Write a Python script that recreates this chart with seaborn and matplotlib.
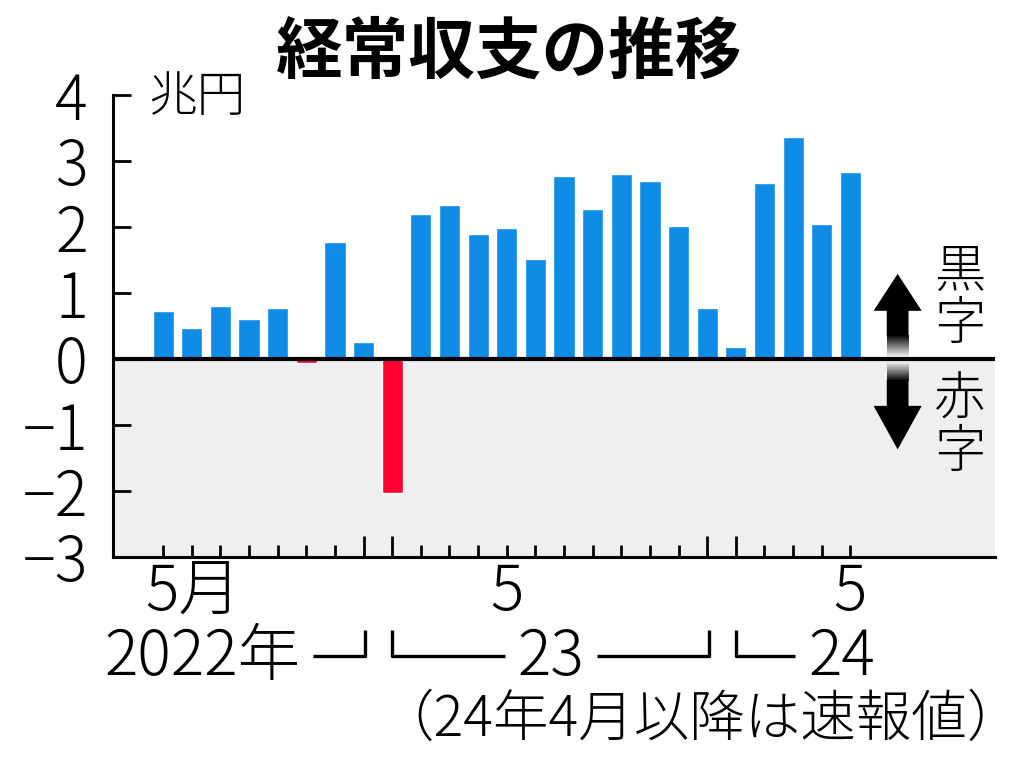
import numpy as np
import pandas as pd
import matplotlib
matplotlib.use("Agg")
import matplotlib.pyplot as plt
import matplotlib.transforms as mtransforms
import seaborn as sns

# ---------------- data ----------------
months = ["2022-05", "2022-06", "2022-07", "2022-08", "2022-09", "2022-10", "2022-11",
          "2022-12", "2023-01", "2023-02", "2023-03", "2023-04", "2023-05", "2023-06",
          "2023-07", "2023-08", "2023-09", "2023-10", "2023-11", "2023-12", "2024-01",
          "2024-02", "2024-03", "2024-04", "2024-05"]
values = [0.73, 0.47, 0.81, 0.61, 0.78, -0.06, 1.78, 0.26, -2.03, 2.19, 2.34, 1.89,
          1.99, 1.51, 2.77, 2.28, 2.81, 2.69, 2.02, 0.78, 0.18, 2.66, 3.36, 2.04, 2.84]
yticks = [-3, -2, -1, 0, 1, 2, 3, 4]
ytick_labels = ["\u22123", "\u22122", "\u22121", "0", "1", "2", "3", "4"]
month_labels = {0: "5月", 12: "5", 24: "5"}
title = "経常収支の推移"
unit = "兆円"
note = "（24年4月以降は速報値）"

BLUE = "#0f8ce6"
RED = "#ff0033"

sns.set_style("white")
plt.rcParams["font.family"] = ["Noto Sans CJK JP", "DejaVu Sans"]
plt.rcParams["font.weight"] = "light"
plt.rcParams["text.color"] = "black"
plt.rcParams["axes.labelcolor"] = "black"
plt.rcParams["xtick.color"] = "black"
plt.rcParams["ytick.color"] = "black"

df = pd.DataFrame({"month": months, "value": values})
df["sign"] = np.where(df["value"] >= 0, "黒字", "赤字")

fig = plt.figure(figsize=(10.24, 7.62), dpi=100)
ax = fig.add_axes([113 / 1024, 1 - 557 / 762, (995 - 113) / 1024, (557 - 95) / 762])

sns.barplot(data=df, x="month", y="value", hue="sign",
            palette={"黒字": BLUE, "赤字": RED}, dodge=False, width=0.74,
            saturation=1, legend=False, ax=ax, zorder=3)

n = len(months)
XL = (-1.75, 29.05)
ax.set_xlim(*XL)
ax.set_ylim(-3, 4)

# negative-area background and zero line
ax.axhspan(-3, 0, color="#efefef", zorder=0, lw=0)
ax.axhline(0, color="black", lw=3, zorder=4)

# spines
for s in ["top", "right"]:
    ax.spines[s].set_visible(False)
for s in ["left", "bottom"]:
    ax.spines[s].set_color("black")
    ax.spines[s].set_linewidth(2.2)
    ax.spines[s].set_zorder(5)

# y ticks
ax.set_yticks(yticks)
ax.set_yticklabels(ytick_labels)
ax.tick_params(axis="y", direction="in", length=13, width=2, pad=18,
               labelsize=44, colors="black", left=True)
ax.set_ylabel("")
ax.set_xlabel("")

# x ticks: short ticks, with longer ticks at year boundaries
long_idx = [i for i, m in enumerate(months) if m.endswith("-12") or m.endswith("-01")]
short_idx = [i for i in range(n) if i not in long_idx]
ax.set_xticks(short_idx)
ax.set_xticks(long_idx, minor=True)
ax.set_xticklabels([month_labels.get(i, "") for i in short_idx])
ax.tick_params(axis="x", which="major", direction="in", length=9, width=2,
               pad=3, labelsize=45, colors="black", bottom=True)
ax.tick_params(axis="x", which="minor", direction="in", length=15, width=2,
               bottom=True)
for lab in ax.get_xticklabels():
    if lab.get_text() == "5月":
        lab.set_horizontalalignment("left")
        lab.set_transform(lab.get_transform() +
                          mtransforms.ScaledTranslation(-18 / 100, 0, fig.dpi_scale_trans))

# year row with brackets
trans = mtransforms.blended_transform_factory(ax.transData, ax.transAxes)
yrow = -0.218
ytop = -0.158
ybr = -0.214
lkw = dict(color="black", lw=2.4, transform=trans, clip_on=False, solid_capstyle="butt")
ax.text(4.8, yrow, "2022年", ha="right", va="center", fontsize=45, transform=trans)
ax.plot([5.24, 7.05, 7.05], [ybr, ybr, ytop], **lkw)
ax.plot([8.0, 8.0, 11.94], [ytop, ybr, ybr], **lkw)
ax.text(13.55, yrow, "23", ha="center", va="center", fontsize=45, transform=trans)
ax.plot([15.15, 19.06, 19.06], [ybr, ybr, ytop], **lkw)
ax.plot([20.0, 20.0, 22.06], [ytop, ybr, ybr], **lkw)
ax.text(23.7, yrow, "24", ha="center", va="center", fontsize=45, transform=trans)

# unit label
ax.text(0.04, 0.996, unit, transform=ax.transAxes, ha="left", va="center", fontsize=35)

# right-side legend: arrows with gradient and vertical labels
xc = 25.65
hw, sw = 0.84, 0.38
up = plt.Polygon([[xc - sw, 0.35], [xc - sw, 0.73], [xc - hw, 0.73], [xc, 1.29],
                  [xc + hw, 0.73], [xc + sw, 0.73], [xc + sw, 0.35]],
                 closed=True, color="black", lw=0, zorder=6)
dn = plt.Polygon([[xc - sw, -0.32], [xc - sw, -0.71], [xc - hw, -0.71], [xc, -1.37],
                  [xc + hw, -0.71], [xc + sw, -0.71], [xc + sw, -0.32]],
                 closed=True, color="black", lw=0, zorder=6)
ax.add_patch(up)
ax.add_patch(dn)
g = np.zeros((64, 1, 4))
g[..., 3] = np.linspace(1, 0, 64)[:, None]
ax.imshow(g, extent=[xc - sw, xc + sw, 0.02, 0.36], origin="upper", aspect="auto",
          zorder=6, interpolation="bilinear")
g2 = np.zeros((64, 1, 4))
g2[..., 3] = np.linspace(0, 1, 64)[:, None]
ax.imshow(g2, extent=[xc - sw, xc + sw, -0.33, -0.05], origin="upper", aspect="auto",
          zorder=6, interpolation="bilinear")
ax.set_xlim(*XL)
ax.set_ylim(-3, 4)

ax.text(27.82, 0.93, "黒\n字", ha="center", va="center", fontsize=37, linespacing=1.0)
ax.text(27.82, -1.02, "赤\n字", ha="center", va="center", fontsize=37, linespacing=1.0)

# title and note
fig.text(0.497, 1 - 53 / 762, title, ha="center", va="center", fontsize=48, fontweight="bold")
fig.text(0.999, 1 - 720 / 762, note, ha="right", va="center", fontsize=40)

fig.savefig("out.png", dpi=100)
